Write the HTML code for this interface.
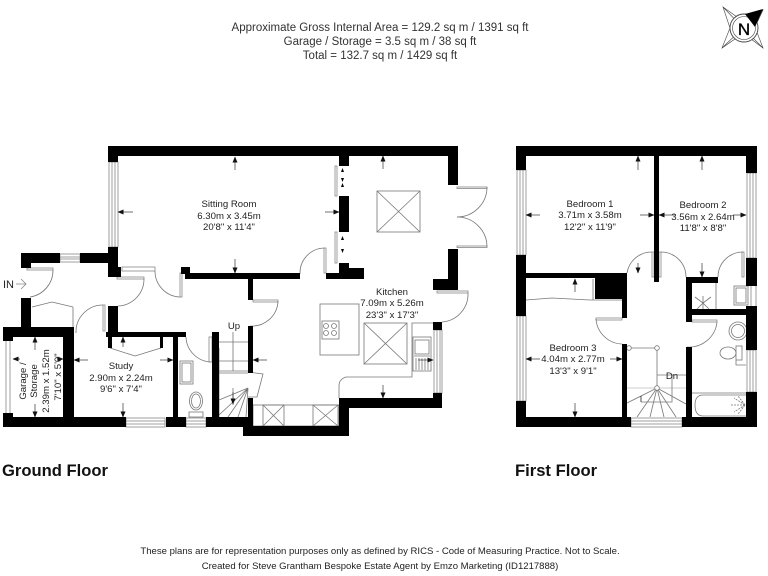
<!DOCTYPE html>
<html><head><meta charset="utf-8"><style>
html,body{margin:0;padding:0;background:#fff}
svg{display:block;filter:blur(.35px)}
text{font-family:"Liberation Sans",sans-serif;fill:#222}
.t{font-size:9.6px;text-anchor:middle}
.h{font-size:11.5px;text-anchor:middle;fill:#333}
.f{font-size:9.55px;text-anchor:middle;fill:#222}
.b{font-size:16.6px;font-weight:bold;fill:#111}
.l{fill:none;stroke:#777;stroke-width:.8}
.d{fill:none;stroke:#555;stroke-width:.7}
.w{fill:#fff;stroke:#888;stroke-width:.8}
.a{stroke:#333;stroke-width:.7;marker-end:url(#m)}
</style></head><body>
<svg width="768" height="576" viewBox="0 0 768 576" xmlns="http://www.w3.org/2000/svg">
<defs><marker id="m" markerUnits="userSpaceOnUse" markerWidth="6" markerHeight="5" refX="5.5" refY="2.5" orient="auto"><path d="M0 0L6 2.5L0 5z" fill="#111"/></marker></defs>
<rect width="768" height="576" fill="#fff"/>
<text class="h" x="380" y="31">Approximate Gross Internal Area = 129.2 sq m / 1391 sq ft</text>
<text class="h" x="380" y="45">Garage / Storage = 3.5 sq m / 38 sq ft</text>
<text class="h" x="380" y="59">Total = 132.7 sq m / 1429 sq ft</text>

<!-- compass -->
<g fill="none" stroke="#444" stroke-width=".6">
<path d="M723 7L737 17L744 14L752 17L763 10L755 27L763 48L751 39L743 42L735 39L722 48L730 28Z"/>
<path d="M723 7L743 28M763 48L743 28M722 48L743 28"/>
<circle cx="744" cy="28" r="14" fill="#fff" stroke-width=".9"/><circle cx="744" cy="28" r="11.500"/>
</g>
<path d="M763 9L745 14L755 27Z" fill="#000"/>
<text x="744" y="35" style="font-size:17px;text-anchor:middle;fill:#000;stroke:#000;stroke-width:.3">N</text>

<!-- ground floor thin detail -->
<g class="w">
<rect x="109" y="162" width="9" height="85"/><rect x="112" y="162" width="3" height="85"/>
<rect x="60" y="254" width="20" height="8"/><rect x="60" y="257" width="20" height="2"/>
<rect x="122" y="267" width="33" height="4"/>
<rect x="6" y="337" width="4" height="80"/>
<rect x="126" y="418" width="39" height="9"/><rect x="126" y="421" width="39" height="3"/>
<rect x="186" y="418" width="20" height="9"/><rect x="186" y="421" width="20" height="3"/>
<rect x="434" y="330" width="8" height="63"/><rect x="437" y="330" width="3" height="63"/>
<rect x="335" y="166" width="2" height="30"/><rect x="335" y="232" width="2" height="31"/>
<rect x="457" y="187" width="30" height="1.5"/><rect x="457" y="246" width="30" height="1.5"/>
<rect x="324" y="248" width="2" height="25"/>
<rect x="180" y="273" width="2" height="24"/>
<rect x="27" y="268" width="26" height="2"/>
<rect x="117" y="277" width="27" height="2"/>
<rect x="103" y="305" width="2" height="26"/>
<rect x="209" y="337" width="3" height="25"/>
<rect x="437" y="291" width="31" height="2"/>
<rect x="253" y="300" width="25" height="2"/>
</g>
<g class="l">
<path d="M53 270A27 27 0 0 1 30 297"/>
<path d="M155 271A26 26 0 0 0 180 297"/>
<path d="M144 279A27 27 0 0 1 118 306"/>
<path d="M103 305A27 27 0 0 0 76 333"/>
<path d="M186 337A26 26 0 0 0 211 362"/>
<path d="M324 248A25 25 0 0 0 300 274"/>
<path d="M487 187A30 30 0 0 1 457 217"/>
<path d="M487 247A30 30 0 0 0 457 217"/>
<path d="M468 293A28 28 0 0 1 442 322"/>
<path d="M278 301A26 26 0 0 1 250 326"/>
<path d="M32 307L52 302L73 307M73 307V327"/>
<path d="M110 348L135 356L161 348"/>
<rect x="377" y="191" width="43" height="41"/><path d="M377 191L420 232M420 191L377 232"/>
<rect x="364" y="323" width="43" height="41"/><path d="M364 323L407 364M407 323L364 364"/>
<rect x="320" y="304" width="39" height="51"/>
<rect x="322" y="321" width="17" height="18"/>
<circle cx="326" cy="326" r="2.5"/><circle cx="334" cy="326" r="2.5"/><circle cx="326" cy="333" r="2.5"/><circle cx="334" cy="333" r="2.5"/>
<path d="M433 323H412V377H346Q339 379 339 386V398"/>
<rect x="413" y="337" width="18" height="34"/><rect x="415" y="340" width="14" height="14"/><path d="M416 358V370M419 358V370M422 358V370M425 358V370M428 358V370M414 356H430"/>
<rect x="253" y="405" width="86" height="21"/>
<rect x="263" y="405" width="21" height="21"/><path d="M263 405L284 426M284 405L263 426"/>
<rect x="313" y="405" width="25" height="21"/><path d="M313 405L338 426M338 405L313 426"/>
<path d="M219 342H248M219 361H248M219 371H248M219 373H248M233 332V371M233 388V405"/>
<path d="M248 372L263 374L257 397L248 397"/>
<path d="M248 388L219 400M248 388L219 415M248 388L228 417M248 388L238 417M248 388L246 417M219 348V417"/>
<rect x="180" y="361" width="13" height="23"/><rect x="182" y="363" width="9" height="19"/>
<ellipse cx="196" cy="401" rx="6.5" ry="9"/><ellipse cx="196" cy="401" rx="4.5" ry="7"/>
<rect x="189" y="412" width="14" height="5"/>
</g>
<path d="M233 392V404" class="a"/>

<!-- ground floor walls -->
<g fill="#000">
<rect x="108" y="146" width="350" height="10"/>
<rect x="108" y="146" width="10" height="16"/>
<rect x="108" y="247" width="10" height="30"/>
<rect x="108" y="267" width="13" height="10"/>
<rect x="21" y="253" width="39" height="10"/>
<rect x="80" y="253" width="38" height="10"/>
<rect x="21" y="253" width="10" height="15"/>
<rect x="21" y="298" width="10" height="30"/>
<rect x="3" y="327" width="71" height="10"/>
<rect x="3" y="327" width="10" height="14"/>
<rect x="63" y="337" width="11" height="80"/>
<rect x="3" y="417" width="123" height="10"/>
<rect x="3" y="413" width="10" height="5"/>
<rect x="166" y="417" width="20" height="10"/>
<rect x="206" y="417" width="47" height="10"/>
<rect x="243" y="426" width="106" height="10"/>
<rect x="339" y="398" width="103" height="10"/>
<rect x="339" y="398" width="10" height="30"/>
<rect x="433" y="393" width="9" height="15"/>
<rect x="433" y="322" width="9" height="8"/>
<rect x="448" y="156" width="10" height="29"/>
<rect x="448" y="249" width="10" height="41"/>
<rect x="433" y="279" width="25" height="11"/>
<rect x="339" y="156" width="10" height="10"/>
<rect x="339" y="196" width="10" height="36"/>
<rect x="339" y="263" width="10" height="12"/>
<rect x="326" y="273" width="38" height="6"/>
<rect x="349" y="268" width="15" height="6"/>
<rect x="185" y="273" width="115" height="6"/>
<rect x="181" y="267" width="9" height="7"/>
<rect x="248" y="279" width="5" height="21"/>
<rect x="108" y="306" width="10" height="31"/>
<rect x="106" y="332" width="80" height="5"/>
<rect x="108" y="337" width="4" height="11"/>
<rect x="160" y="337" width="3" height="11"/>
<rect x="173" y="337" width="5" height="80"/>
<rect x="212" y="332" width="7" height="88"/>
<rect x="248" y="326" width="5" height="47"/>
<rect x="248" y="398" width="5" height="20"/>
</g>
<g fill="#000"><path d="M341 172h3l-1.500 -4zM341 178h3l-1.500 4zM341 187h3l-1.500 -4zM341 240h3l-1.500 -4zM341 249h3l-1.500 4z"/></g>

<!-- first floor thin details -->
<g class="w">
<rect x="517" y="170" width="9" height="85"/><rect x="520" y="170" width="3" height="85"/>
<rect x="517" y="316" width="9" height="85"/><rect x="520" y="316" width="3" height="85"/>
<rect x="747" y="173" width="9" height="85"/><rect x="750" y="173" width="3" height="85"/>
<rect x="751" y="285" width="5" height="23"/>
<rect x="747" y="350" width="9" height="42"/><rect x="750" y="350" width="3" height="42"/>
<rect x="631" y="418" width="51" height="9"/><rect x="631" y="421" width="51" height="3"/>
<rect x="652" y="252" width="2" height="25"/>
<rect x="659" y="252" width="2" height="25"/>
<rect x="742" y="252" width="2" height="25"/>
<rect x="596" y="318" width="26" height="2"/>
<rect x="692" y="320" width="25" height="2"/>
</g>
<g class="l">
<path d="M652 252A25 25 0 0 0 627 273"/>
<path d="M661 252A25 25 0 0 1 686 277"/>
<path d="M743 252A25 25 0 0 0 718 277"/>
<path d="M596 319A27 27 0 0 0 622 344"/>
<path d="M717 322A28 28 0 0 1 687 347"/>
<path d="M526 300L552 298L590 300L622 300M593 279V300"/>
<path d="M716 283V309"/>
<rect x="734" y="286" width="14" height="19"/><rect x="736" y="288" width="10" height="15"/>
<path d="M703 296V311M703 303L695 297M703 303L711 297M703 303L697 309M703 303L709 309"/>
<circle cx="738" cy="331" r="9"/><circle cx="738" cy="331" r="6.500"/>
<ellipse cx="728" cy="353" rx="8" ry="6"/><rect x="736" y="346" width="6" height="14"/><path d="M736 360V365H746"/>
<path d="M692 393H746"/>
<path d="M746 395H703Q695 395 695 405Q695 416 703 416H746"/>
<path d="M745 405L730 405M745 405L734 398M745 405L734 412M745 405L738 396M745 405L738 414" stroke-dasharray="2 1"/>
<path d="M627 388H686" stroke="#bbb"/>
<path d="M629 348H657M657 348V388M657 375H686M672 375V402H641"/>
<path d="M657 388L627 403M657 388L637 417M657 388L650 417M657 388L664 417M657 388L676 417M657 388L686 404"/>
<circle cx="629" cy="348" r="2.300" fill="#fff"/><circle cx="657" cy="348" r="2.300" fill="#fff"/><circle cx="657" cy="388" r="2.300" fill="#fff"/>
<path d="M641 396V402" stroke="#222"/>
</g>

<!-- first floor walls -->
<g fill="#000">
<rect x="516" y="146" width="241" height="10"/>
<rect x="516" y="146" width="10" height="24"/>
<rect x="516" y="255" width="10" height="61"/>
<rect x="516" y="401" width="10" height="26"/>
<rect x="516" y="417" width="115" height="10"/>
<rect x="682" y="417" width="75" height="10"/>
<rect x="746" y="146" width="11" height="27"/>
<rect x="746" y="258" width="11" height="28"/>
<rect x="746" y="306" width="11" height="44"/>
<rect x="746" y="392" width="11" height="35"/>
<rect x="654" y="156" width="5" height="126"/>
<rect x="516" y="273" width="111" height="5"/>
<rect x="595" y="275" width="32" height="24"/>
<rect x="622" y="299" width="5" height="19"/>
<rect x="622" y="344" width="5" height="73"/>
<rect x="686" y="277" width="32" height="6"/>
<rect x="686" y="283" width="6" height="39"/>
<rect x="686" y="347" width="6" height="70"/>
<rect x="692" y="309" width="54" height="6"/>
</g>

<!-- dims -->
<g>
<path class="a" d="M235 170V157"/><path class="a" d="M235 259V273"/><path class="a" d="M133 212H118"/><path class="a" d="M325 212H339"/>
<path class="a" d="M383 169V156"/><path class="a" d="M383 385V398"/><path class="a" d="M267 360H253"/><path class="a" d="M418 360H433"/>
<path class="a" d="M123 347V337"/><path class="a" d="M123 403V417"/><path class="a" d="M88 360H74"/><path class="a" d="M160 360H173"/>
<path class="a" d="M35 350V337"/><path class="a" d="M35 404V417"/><path class="a" d="M20 359H13"/><path class="a" d="M57 359H63"/>
<path class="a" d="M638 170V156"/><path class="a" d="M638 263V273"/><path class="a" d="M540 215H526"/><path class="a" d="M640 215H654"/>
<path class="a" d="M702 170V156"/><path class="a" d="M702 263V277"/><path class="a" d="M675 215H659"/><path class="a" d="M733 215H746"/>
<path class="a" d="M575 292V279"/><path class="a" d="M575 403V417"/><path class="a" d="M540 359H526"/><path class="a" d="M610 359H622"/>
</g>

<!-- labels -->
<text class="t" x="229" y="207">Sitting Room</text>
<text class="t" x="229" y="219">6.30m x 3.45m</text>
<text class="t" x="229" y="230">20'8" x 11'4"</text>
<text class="t" x="392" y="295">Kitchen</text>
<text class="t" x="392" y="306">7.09m x 5.26m</text>
<text class="t" x="392" y="318">23'3" x 17'3"</text>
<text class="t" x="121" y="369">Study</text>
<text class="t" x="121" y="381">2.90m x 2.24m</text>
<text class="t" x="121" y="392">9'6" x 7'4"</text>
<text class="t" x="234" y="329">Up</text>
<text x="3" y="288" style="font-size:11px;fill:#222">IN</text>
<path d="M16 284H26M21 279L26 284L21 289" fill="none" stroke="#888" stroke-width=".8"/>
<text class="t" transform="translate(26 381) rotate(-90)">Garage /</text>
<text class="t" transform="translate(37 381) rotate(-90)">Storage</text>
<text class="t" transform="translate(49 381) rotate(-90)">2.39m x 1.52m</text>
<text class="t" transform="translate(61 377) rotate(-90)">7'10" x 5'0"</text>
<text class="t" x="590" y="207">Bedroom 1</text>
<text class="t" x="590" y="218">3.71m x 3.58m</text>
<text class="t" x="590" y="230">12'2" x 11'9"</text>
<text class="t" x="703" y="208">Bedroom 2</text>
<text class="t" x="703" y="220">3.56m x 2.64m</text>
<text class="t" x="703" y="231">11'8" x 8'8"</text>
<text class="t" x="573" y="351">Bedroom 3</text>
<text class="t" x="573" y="362">4.04m x 2.77m</text>
<text class="t" x="573" y="374">13'3" x 9'1"</text>
<text class="t" x="672" y="379">Dn</text>
<text class="b" x="2" y="476">Ground Floor</text>
<text class="b" x="515" y="476">First Floor</text>
<text class="f" x="380" y="554">These plans are for representation purposes only as defined by RICS - Code of Measuring Practice. Not to Scale.</text>
<text class="f" x="380" y="569">Created for Steve Grantham Bespoke Estate Agent by Emzo Marketing (ID1217888)</text>
</svg>
</body></html>
